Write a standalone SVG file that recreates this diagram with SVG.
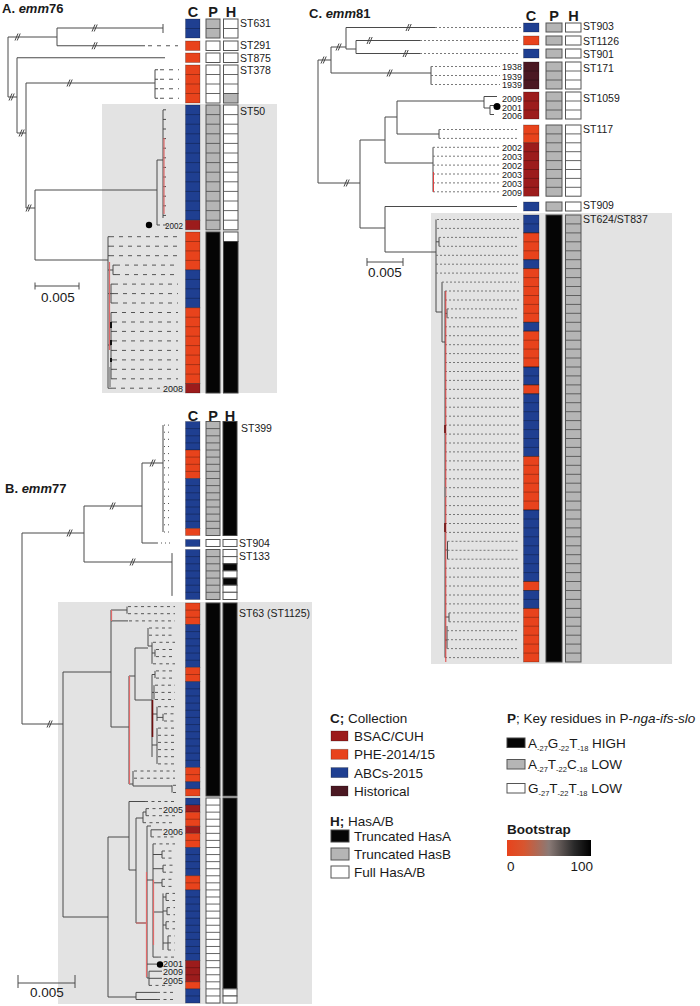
<svg xmlns="http://www.w3.org/2000/svg" width="700" height="1006" viewBox="0 0 700 1006">
<defs>
<style>
text{font-family:"Liberation Sans",Arial,sans-serif;fill:#1a1a1a}
.ttl{font-size:13px;font-weight:bold}
.hd{font-size:14.5px;font-weight:bold;text-anchor:middle}
.st{font-size:10.5px}
.yr{font-size:9px;text-anchor:end}
.sc{font-size:13.5px;text-anchor:middle}
.lg{font-size:13.5px}
.t{fill:none;stroke:#4a4a4a;stroke-width:1}
.da{fill:none;stroke:#555;stroke-width:1;stroke-dasharray:4 5}
.db{fill:none;stroke:#555;stroke-width:1;stroke-dasharray:3 3.5}
.dc{fill:none;stroke:#6a6a6a;stroke-width:0.9;stroke-dasharray:2 2}
.dt{fill:none;stroke:#555;stroke-width:1;stroke-dasharray:1 3}
.pk{fill:none;stroke:#e06a6a;stroke-width:1.2}
.dr{fill:none;stroke:#6e1010;stroke-width:1.6}
.sep{fill:none;stroke:#000;stroke-opacity:0.35;stroke-width:0.8}
.sepd{fill:none;stroke:#555;stroke-width:0.9}
.cb,.co,.cm,.ch{stroke:#000;stroke-opacity:0.3;stroke-width:0.8}
.cb{fill:#1f3f91}.co{fill:#e8431c}.cm{fill:#9c1c1c}.ch{fill:#4b1822}
.cw{fill:#fff;stroke:#555;stroke-width:1}
.cg{fill:#b5b5b5;stroke:#555;stroke-width:1}
.ck{fill:#050505;stroke:#444;stroke-width:1}
.bg{fill:#e3e3e3}
</style>
<path id="sl" d="M-3 3.5L0 -3.5M-0.8 3.5L2.2 -3.5" fill="none" stroke="#444" stroke-width="1"/>
<linearGradient id="bs" x1="0" x2="1" y1="0" y2="0">
<stop offset="0" stop-color="#e8431c"/>
<stop offset="0.2" stop-color="#d8552f"/>
<stop offset="0.5" stop-color="#8a7a76"/>
<stop offset="0.8" stop-color="#2a2a2a"/>
<stop offset="1" stop-color="#000"/>
</linearGradient>
</defs>
<rect width="700" height="1006" fill="#fff"/>

<!-- ================= PANEL A ================= -->
<g id="panelA">
<rect class="bg" x="102" y="104" width="175" height="289"/>
<text class="ttl" x="2" y="13">A. <tspan font-style="italic">emm</tspan>76</text>
<text class="hd" x="193" y="17">C</text><text class="hd" x="213" y="17">P</text><text class="hd" x="231" y="17">H</text>

<g id="A-connectors">
<path class="t" d="M8 37V97M8 37H57M57 28V45.75M57 28H163M163 24V33M57 45.75H145M8 97H17M17 57.75V133M17 57.75H165M17 133H26M26 83V208M26 83H155M155 69.75V98.25M155 69.75H158M155 79.25H158M155 88.75H158M155 98.25H158M26 208H35M35 190V260M35 190H157M157 160V225M157 160H163M163 110V218M157 225H160M35 260H108M108 236.7V388.2"/>
<path class="t" d="M163 109.8h3M163 119.4h3M163 129h3M163 138.6h3M163 148.2h3M163 157.8h3M163 167.4h3M163 177h3M163 186.6h3M163 196.2h3M163 205.8h3M163 215.4h3"/>
<path class="t" d="M108 236.7H110M108 246.2H110M108 255.7H110M108 270H113M113 265.1V274.6M113 265.1H116M113 274.6H116M108 293.6H111M111 284.1V303M111 284.1H114M111 293.6H114M111 303H114M108 345H111M111 312.5V378.8M111 312.5h2M111 322h2M111 331.4h2M111 340.9h2M111 350.4h2M111 359.9h2M111 369.3h2M111 378.8h2M108 388.2H112"/>
<path class="da" d="M148 45.75H178M160 69.75H179M160 79.25H179M160 88.75H179M160 98.25H179M163 225H168"/>
<path class="da" d="M110 236.7H178M110 246.2H178M110 255.7H178M116 265.1H178M116 274.6H178M114 284.1H178M114 293.6H178M114 303H178M113 312.5H178M113 322H178M113 331.4H178M113 340.9H178M113 350.4H178M113 359.9H178M113 369.3H178M113 378.8H178M112 388.2H160"/>
<path class="pk" d="M164 138V214M109.5 262V350"/>
<path fill="none" stroke="#111" stroke-width="2" d="M111 322V328M111 340V345M111 358V362"/>
<path fill="none" stroke="#888" stroke-width="1.5" d="M110 367V387"/>
<use href="#sl" x="18" y="37"/><use href="#sl" x="95" y="28"/><use href="#sl" x="95" y="45.75"/><use href="#sl" x="12" y="97"/><use href="#sl" x="22" y="133"/><use href="#sl" x="70" y="83"/><use href="#sl" x="29" y="208"/>
<circle cx="149" cy="225" r="3.2" fill="#000"/>
</g>

<g id="A-ST631">
<rect class="cb" x="185.5" y="19" width="14.5" height="19"/><path class="sep" d="M185.5 28.5h14.5"/>
<rect class="cg" x="206" y="19" width="14" height="19"/><path class="sepd" d="M206 28.5h14"/>
<rect class="cw" x="223.5" y="19" width="14.5" height="19"/><path class="sepd" d="M223.5 28.5h14.5"/>
<text class="st" x="240" y="27">ST631</text>
</g>
<g id="A-ST291">
<rect class="co" x="185.5" y="41" width="14.5" height="9.5"/>
<rect class="cw" x="206" y="41" width="14" height="9.5"/>
<rect class="cw" x="223.5" y="41" width="14.5" height="9.5"/>
<text class="st" x="240" y="49">ST291</text>
</g>
<g id="A-ST875">
<rect class="co" x="185.5" y="53" width="14.5" height="9.5"/>
<rect class="cw" x="206" y="53" width="14" height="9.5"/>
<rect class="cw" x="223.5" y="53" width="14.5" height="9.5"/>
<text class="st" x="240" y="61.5">ST875</text>
</g>
<g id="A-ST378">
<rect class="co" x="185.5" y="65" width="14.5" height="38"/><path class="sep" d="M185.5 74.5h14.5M185.5 84h14.5M185.5 93.5h14.5"/>
<rect class="cw" x="206" y="65" width="14" height="38"/><path class="sepd" d="M206 74.5h14M206 84h14M206 93.5h14"/>
<rect class="cw" x="223.5" y="65" width="14.5" height="28.5"/><rect class="cg" x="223.5" y="93.5" width="14.5" height="9.5"/><path class="sepd" d="M223.5 74.5h14.5M223.5 84h14.5"/>
<text class="st" x="240" y="74">ST378</text>
</g>
<g id="A-ST50">
<rect class="cb" x="185.5" y="105" width="14.5" height="115.2"/><rect class="cm" x="185.5" y="220.2" width="14.5" height="9.6"/>
<path class="sep" d="M185.5 114.6h14.5M185.5 124.2h14.5M185.5 133.8h14.5M185.5 143.4h14.5M185.5 153h14.5M185.5 162.6h14.5M185.5 172.2h14.5M185.5 181.8h14.5M185.5 191.4h14.5M185.5 201h14.5M185.5 210.6h14.5"/>
<rect class="cg" x="206" y="105" width="14" height="124.8"/>
<path class="sepd" d="M206 114.6h14M206 124.2h14M206 133.8h14M206 143.4h14M206 153h14M206 162.6h14M206 172.2h14M206 181.8h14M206 191.4h14M206 201h14M206 210.6h14M206 220.2h14"/>
<rect class="cw" x="223.5" y="105" width="14.5" height="124.8"/>
<path class="sepd" d="M223.5 114.6h14.5M223.5 124.2h14.5M223.5 133.8h14.5M223.5 143.4h14.5M223.5 153h14.5M223.5 162.6h14.5M223.5 172.2h14.5M223.5 181.8h14.5M223.5 191.4h14.5M223.5 201h14.5M223.5 210.6h14.5M223.5 220.2h14.5"/>
<text class="st" x="240" y="115">ST50</text>
<text class="yr" x="183" y="228.5" textLength="18" lengthAdjust="spacingAndGlyphs">2002</text>
</g>
<g id="A-clade2">
<rect class="co" x="185.5" y="232" width="14.5" height="37.9"/><rect class="cb" x="185.5" y="269.9" width="14.5" height="37.9"/><rect class="co" x="185.5" y="307.8" width="14.5" height="75.7"/><rect class="cm" x="185.5" y="383.5" width="14.5" height="9.5"/>
<path class="sep" d="M185.5 241.5h14.5M185.5 250.9h14.5M185.5 260.4h14.5M185.5 279.4h14.5M185.5 288.8h14.5M185.5 298.3h14.5M185.5 317.2h14.5M185.5 326.7h14.5M185.5 336.2h14.5M185.5 345.6h14.5M185.5 355.1h14.5M185.5 364.6h14.5M185.5 374.1h14.5"/>
<rect class="ck" x="206" y="232" width="14" height="161"/>
<rect class="cw" x="223.5" y="232" width="14.5" height="9.5"/><rect class="ck" x="223.5" y="241.5" width="14.5" height="151.5"/>
<text class="yr" x="183" y="392" textLength="20" lengthAdjust="spacingAndGlyphs">2008</text>
</g>
<g id="A-scale">
<path class="t" d="M35 286H79M35 282.5V289.5M79 282.5V289.5"/>
<text class="sc" x="58" y="302">0.005</text>
</g>
</g>

<!-- ================= PANEL B ================= -->
<g id="panelB">
<rect class="bg" x="58" y="602" width="254" height="402"/>
<text class="ttl" x="5" y="493">B. <tspan font-style="italic">emm</tspan>77</text>
<text class="hd" x="193" y="421">C</text><text class="hd" x="213" y="421">P</text><text class="hd" x="230" y="421">H</text>

<g id="B-connectors">
<path class="t" d="M22 533V724M22 533H84M84 506V562M84 506H142M142 463V543M142 463H163M163 425.1V532M142 543H157M84 562H172M172 553.1V595.9M22 724H63M63 672V917"/>
<path class="dt" d="M164 425.1H171M164 432.2H171M164 439.3H171M164 446.5H171M164 453.6H171M164 460.7H171M164 467.8H171M164 475H171M164 482.1H171M164 489.2H171M164 496.3H171M164 503.5H171M164 510.6H171M164 517.7H171M164 524.8H171M164 532H171M157 543H171"/>
<path class="t" d="M63 672H111M111 610V727M111 610H127M127 606.6V613.7M111 620.9H128M111 727H129M129 676V784M129 676H135M135 648V700M135 648H148M148 628V646M148 646H152M152 642.3V663.8M152 653H155M155 649.5V656.6M135 700H152M152 674.5V757M152 674.5H155M155 670.9V678.1M152 692.4H154M154 685.2V699.5M152 714H157M157 706.7V721M157 717.4H163M163 713.8V721M152 745H157M157 728.1V763.9M129 784H133M133 771V786M133 786H172M172 785.3V792.5"/>
<path class="db" d="M128 606.6H175M128 613.7H175M129 620.9H175M149 628H175M149 635.2H175M153 642.3H175M156 649.5H175M156 656.6H175M153 663.8H175M156 670.9H175M156 678.1H175M155 685.2H175M155 692.4H175M155 699.5H175M158 706.7H175M164 713.8H175M164 721H175M158 728.1H175M158 735.3H175M158 742.4H175M158 749.6H175M158 756.7H175M158 763.9H175M134 771H175M134 778.2H175M173 785.3H176M173 792.5H176"/>
<path class="pk" d="M129.5 676V784M111.5 610V621"/>
<path class="dr" d="M152.5 700V737"/>
<path class="t" d="M63 917H108M108 837V997M108 837H129M129 801.5V870M129 801.5H145M129 870H136M136 818V923M136 818H143M143 812V822.7M143 812H146M146 808.6V815.7M136 923H147M147 826V978M147 826H151M151 829.8V836.9M151 829.8H162M147 880H153M153 843.9V957.1M153 854.5H162M162 851V858.1M153 868.7H163M163 865.2V872.2M153 882.8H162M162 879.3V886.4M153 912H163M163 893.4V950M163 897H166M166 893.4V900.5M163 911H167M167 907.6V914.7M163 925H166M166 921.7V928.8M163 943H168M168 935.9V950M153 957.1H158M147 964.1H162M147 978H149M149 971.2V985.4M149 971.2H162M149 978.3H162M108 997H136M136 992.4V999.5M136 992.4H157M136 999.5H157"/>
<path class="db" d="M145 801.5H175M146 808.6H162M146 815.7H175M143 822.7H175M151 836.9H175M153 843.9H175M162 851H175M162 858.1H175M163 865.2H175M163 872.2H175M162 879.3H175M162 886.4H175M166 893.4H175M166 900.5H175M167 907.6H175M167 914.7H175M166 921.7H175M166 928.8H175M168 935.9H175M168 942.9H175M168 950H175M158 957.1H175M149 985.4H175M157 992.4H175M157 999.5H175"/>
<path class="pk" d="M146.5 872V977M153.5 880V945M136 923H147"/>
<use href="#sl" x="70" y="533"/><use href="#sl" x="113" y="506"/><use href="#sl" x="153" y="463"/><use href="#sl" x="133" y="562"/><use href="#sl" x="50" y="724"/>
<circle cx="160" cy="964.5" r="3.2" fill="#000"/>
</g>

<g id="B-ST399">
<rect class="cb" x="185.5" y="421.5" width="14.5" height="28.5"/><rect class="co" x="185.5" y="450" width="14.5" height="28.5"/><rect class="cb" x="185.5" y="478.5" width="14.5" height="49.9"/><rect class="co" x="185.5" y="528.4" width="14.5" height="7.1"/>
<path class="sep" d="M185.5 428.6h14.5M185.5 435.8h14.5M185.5 442.9h14.5M185.5 457.1h14.5M185.5 464.3h14.5M185.5 471.4h14.5M185.5 485.6h14.5M185.5 492.8h14.5M185.5 499.9h14.5M185.5 507h14.5M185.5 514.1h14.5M185.5 521.3h14.5"/>
<rect class="cg" x="206" y="421.5" width="14" height="114"/>
<path class="sepd" d="M206 428.6h14M206 435.8h14M206 442.9h14M206 450h14M206 457.1h14M206 464.3h14M206 471.4h14M206 478.5h14M206 485.6h14M206 492.8h14M206 499.9h14M206 507h14M206 514.1h14M206 521.3h14M206 528.4h14"/>
<rect class="ck" x="223" y="421.5" width="14" height="114"/>
<text class="st" x="241" y="431.5">ST399</text>
</g>
<g id="B-ST904">
<rect class="cb" x="185.5" y="539.5" width="14.5" height="7"/>
<rect class="cw" x="206" y="539.5" width="14" height="7"/>
<rect class="cw" x="223" y="539.5" width="14" height="7"/>
<text class="st" x="239" y="547">ST904</text>
</g>
<g id="B-ST133">
<rect class="cb" x="185.5" y="549.5" width="14.5" height="50"/>
<path class="sep" d="M185.5 556.6h14.5M185.5 563.8h14.5M185.5 570.9h14.5M185.5 578.1h14.5M185.5 585.2h14.5M185.5 592.3h14.5"/>
<rect class="cg" x="206" y="549.5" width="14" height="50"/>
<path class="sepd" d="M206 556.6h14M206 563.8h14M206 570.9h14M206 578.1h14M206 585.2h14M206 592.3h14"/>
<rect class="cw" x="223" y="549.5" width="14" height="7.1"/><rect class="cw" x="223" y="556.6" width="14" height="7.2"/><rect class="ck" x="223" y="563.8" width="14" height="7.1"/><rect class="cw" x="223" y="570.9" width="14" height="7.2"/><rect class="ck" x="223" y="578.1" width="14" height="7.1"/><rect class="cw" x="223" y="585.2" width="14" height="7.1"/><rect class="cw" x="223" y="592.3" width="14" height="7.2"/>
<text class="st" x="239" y="560">ST133</text>
</g>
<g id="B-ST63">
<rect class="co" x="185.5" y="603" width="14.5" height="21.45"/><rect class="cb" x="185.5" y="624.45" width="14.5" height="42.9"/><rect class="co" x="185.5" y="667.35" width="14.5" height="14.3"/><rect class="cb" x="185.5" y="681.65" width="14.5" height="85.8"/><rect class="co" x="185.5" y="767.45" width="14.5" height="14.3"/><rect class="cb" x="185.5" y="781.75" width="14.5" height="7.15"/><rect class="co" x="185.5" y="788.9" width="14.5" height="7.1"/>
<path class="sep" d="M185.5 610.15h14.5M185.5 617.3h14.5M185.5 631.6h14.5M185.5 638.75h14.5M185.5 645.9h14.5M185.5 653.05h14.5M185.5 660.2h14.5M185.5 674.5h14.5M185.5 688.8h14.5M185.5 695.95h14.5M185.5 703.1h14.5M185.5 710.25h14.5M185.5 717.4h14.5M185.5 724.55h14.5M185.5 731.7h14.5M185.5 738.85h14.5M185.5 746h14.5M185.5 753.15h14.5M185.5 760.3h14.5M185.5 774.6h14.5"/>
<rect class="ck" x="206" y="603" width="14" height="193"/>
<rect class="ck" x="223" y="603" width="14" height="193"/>
<text class="st" x="239" y="617">ST63 (ST1125)</text>
</g>
<g id="B-clade2">
<rect class="cb" x="185.5" y="798" width="14.5" height="7.07"/><rect class="cm" x="185.5" y="805.07" width="14.5" height="7.07"/><rect class="co" x="185.5" y="812.14" width="14.5" height="14.14"/><rect class="cm" x="185.5" y="826.28" width="14.5" height="7.07"/><rect class="co" x="185.5" y="833.35" width="14.5" height="14.14"/><rect class="cb" x="185.5" y="847.49" width="14.5" height="28.28"/><rect class="co" x="185.5" y="875.77" width="14.5" height="14.14"/><rect class="cb" x="185.5" y="889.91" width="14.5" height="70.7"/><rect class="cm" x="185.5" y="960.61" width="14.5" height="21.21"/><rect class="co" x="185.5" y="981.82" width="14.5" height="7.07"/><rect class="cb" x="185.5" y="988.89" width="14.5" height="14.1"/>
<path class="sep" d="M185.5 819.21h14.5M185.5 840.42h14.5M185.5 854.56h14.5M185.5 861.63h14.5M185.5 868.7h14.5M185.5 882.84h14.5M185.5 896.98h14.5M185.5 904.05h14.5M185.5 911.12h14.5M185.5 918.19h14.5M185.5 925.26h14.5M185.5 932.33h14.5M185.5 939.4h14.5M185.5 946.47h14.5M185.5 953.54h14.5M185.5 967.68h14.5M185.5 974.75h14.5M185.5 995.96h14.5"/>
<rect class="cw" x="206" y="798" width="14" height="205"/>
<path class="sepd" d="M206 805.07h14M206 812.14h14M206 819.21h14M206 826.28h14M206 833.35h14M206 840.42h14M206 847.49h14M206 854.56h14M206 861.63h14M206 868.7h14M206 875.77h14M206 882.84h14M206 889.91h14M206 896.98h14M206 904.05h14M206 911.12h14M206 918.19h14M206 925.26h14M206 932.33h14M206 939.4h14M206 946.47h14M206 953.54h14M206 960.61h14M206 967.68h14M206 974.75h14M206 981.82h14M206 988.89h14M206 995.96h14"/>
<rect class="ck" x="223" y="798" width="14" height="190.9"/><rect class="cw" x="223" y="988.9" width="14" height="7.07"/><rect class="cw" x="223" y="996" width="14" height="7"/>
<text class="yr" x="183" y="812.5" textLength="20" lengthAdjust="spacingAndGlyphs">2005</text>
<text class="yr" x="183" y="834.5" textLength="20" lengthAdjust="spacingAndGlyphs">2006</text>
<text class="yr" x="183" y="967" textLength="20" lengthAdjust="spacingAndGlyphs">2001</text>
<text class="yr" x="183" y="975" textLength="20" lengthAdjust="spacingAndGlyphs">2009</text>
<text class="yr" x="183" y="983.5" textLength="20" lengthAdjust="spacingAndGlyphs">2005</text>
</g>
<g id="B-scale">
<path class="t" d="M18 983H75M18 975V988M75 975V988"/>
<text class="sc" x="47" y="997">0.005</text>
</g>
</g>

<!-- ================= PANEL C ================= -->
<g id="panelC">
<rect class="bg" x="431" y="213" width="241" height="451"/>
<text class="ttl" x="309" y="18">C. <tspan font-style="italic">emm</tspan>81</text>
<text class="hd" x="531" y="20.5">C</text><text class="hd" x="554" y="20.5">P</text><text class="hd" x="573.5" y="20.5">H</text>

<g id="C-connectors">
<path class="t" d="M318 60V183M318 60H331M331 47V73M331 47H346M346 27.5V49M346 27.5H435M346 49H356M356 40.5V53.5M356 40.5H420M356 53.5H420M331 73H431M431 66.5V84.5M318 183H360M360 140V228M360 140H385M385 117V163M385 117H397M397 101V134M397 101H484M484 96.5V108M484 96.5H497M484 108H490M490 105.5V114.5M490 105.5H494M490 114.5H494M397 134H439M439 129.5V138.4M385 163H433M433 147.3V191.8M360 228H385M385 206.5V252M385 206.5H517M385 252H436M436 219.5V312M436 312H442M442 282.1V342M442 342H445M445 291V657.6M436 241.8H439M439 237.4V246.3M445 313.4H447M447 308.9V317.8M445 550H447.5M447.5 541.3V559.2M445 617H449M449 612.9V621.8M445 640H447M447 626V648.6"/>
<path class="dc" d="M435 27.5H521M420 40.5H519M420 53.5H519M431 66.5H500M431 75.5H500M431 84.5H500M439 129.5H519M439 138.4H519M433 147.3H499M433 156.2H499M433 165.1H499M433 174H499M433 182.9H499M433 191.8H499"/>
<path class="dc" d="M437 219.5H519M437 228.4H519M439 237.4H519M439 246.3H519M436 255.3H519M436 264.2H519M436 273.1H519M442 282.1H519M445 291H519M445 300H519M447 308.9H519M447 317.8H519M445 326.8H519M445 335.7H519M445 344.7H519M445 353.6H519M445 362.5H519M445 371.5H519M445 380.4H519M445 389.4H519M445 398.3H519M445 407.2H519M445 416.2H519M445 425.1H519M445 434.1H519M445 443H519M445 451.9H519M445 460.9H519M445 469.8H519M445 478.8H519M445 487.7H519M445 496.6H519M445 505.6H519M445 514.5H519M445 523.5H519M445 532.4H519M447.5 541.3H519M447.5 550.3H519M447.5 559.2H519M445 568.2H519M445 577.1H519M445 586H519M445 595H519M445 603.9H519M449 612.9H519M449 621.8H519M447 630.7H519M447 639.7H519M447 648.6H519M445 657.6H519"/>
<path fill="none" stroke="#e04040" stroke-width="1" d="M445.8 291V662M433.5 172V192"/>
<path class="dr" d="M445 425V433M445 523V532"/>
<path fill="none" stroke="#888" stroke-width="1.5" d="M445 487V497"/>
<use href="#sl" x="324" y="60"/><use href="#sl" x="339" y="47"/><use href="#sl" x="409" y="27.5"/><use href="#sl" x="370" y="40.5"/><use href="#sl" x="406" y="53.5"/><use href="#sl" x="390" y="73"/><use href="#sl" x="347" y="183"/>
<circle cx="497" cy="106.5" r="3.5" fill="#000"/>
</g>

<g id="C-ST903">
<rect class="cb" x="523.5" y="23" width="15.5" height="9"/><rect class="cg" x="546" y="23" width="16" height="9"/><rect class="cw" x="565.5" y="23" width="15.5" height="9"/>
<text class="st" x="583" y="30">ST903</text>
</g>
<g id="C-ST1126">
<rect class="co" x="523.5" y="36" width="15.5" height="9"/><rect class="cg" x="546" y="36" width="16" height="9"/><rect class="cw" x="565.5" y="36" width="15.5" height="9"/>
<text class="st" x="583" y="45">ST1126</text>
</g>
<g id="C-ST901">
<rect class="cb" x="523.5" y="49" width="15.5" height="9"/><rect class="cg" x="546" y="49" width="16" height="9"/><rect class="cw" x="565.5" y="49" width="15.5" height="9"/>
<text class="st" x="583" y="57.5">ST901</text>
</g>
<g id="C-ST171">
<rect class="ch" x="523.5" y="62" width="15.5" height="27"/><path class="sep" d="M523.5 71h15.5M523.5 80h15.5"/>
<rect class="cg" x="546" y="62" width="16" height="27"/><path class="sepd" d="M546 71h16M546 80h16"/>
<rect class="cw" x="565.5" y="62" width="15.5" height="27"/><path class="sepd" d="M565.5 71h15.5M565.5 80h15.5"/>
<text class="st" x="583" y="72">ST171</text>
<text class="yr" x="522" y="70" textLength="20" lengthAdjust="spacingAndGlyphs">1938</text>
<text class="yr" x="522" y="79.5" textLength="20" lengthAdjust="spacingAndGlyphs">1939</text>
<text class="yr" x="522" y="88" textLength="20" lengthAdjust="spacingAndGlyphs">1939</text>
</g>
<g id="C-ST1059">
<rect class="cm" x="523.5" y="92" width="15.5" height="27"/><path class="sep" d="M523.5 101h15.5M523.5 110h15.5"/>
<rect class="cg" x="546" y="92" width="16" height="27"/><path class="sepd" d="M546 101h16M546 110h16"/>
<rect class="cw" x="565.5" y="92" width="15.5" height="27"/><path class="sepd" d="M565.5 101h15.5M565.5 110h15.5"/>
<text class="st" x="583" y="102">ST1059</text>
<text class="yr" x="522" y="101.5" textLength="20" lengthAdjust="spacingAndGlyphs">2009</text>
<text class="yr" x="522" y="111" textLength="20" lengthAdjust="spacingAndGlyphs">2001</text>
<text class="yr" x="522" y="119" textLength="20" lengthAdjust="spacingAndGlyphs">2006</text>
</g>
<g id="C-ST117">
<rect class="co" x="523.5" y="125" width="15.5" height="17.8"/><rect class="cm" x="523.5" y="142.8" width="15.5" height="53.4"/>
<path class="sep" d="M523.5 133.9h15.5M523.5 151.7h15.5M523.5 160.6h15.5M523.5 169.5h15.5M523.5 178.4h15.5M523.5 187.3h15.5"/>
<rect class="cg" x="546" y="125" width="16" height="71.2"/>
<path class="sepd" d="M546 133.9h16M546 142.8h16M546 151.7h16M546 160.6h16M546 169.5h16M546 178.4h16M546 187.3h16"/>
<rect class="cw" x="565.5" y="125" width="15.5" height="71.2"/>
<path class="sepd" d="M565.5 133.9h15.5M565.5 142.8h15.5M565.5 151.7h15.5M565.5 160.6h15.5M565.5 169.5h15.5M565.5 178.4h15.5M565.5 187.3h15.5"/>
<text class="st" x="583" y="132.5">ST117</text>
<text class="yr" x="522" y="151" textLength="20" lengthAdjust="spacingAndGlyphs">2002</text>
<text class="yr" x="522" y="160" textLength="20" lengthAdjust="spacingAndGlyphs">2003</text>
<text class="yr" x="522" y="168.5" textLength="20" lengthAdjust="spacingAndGlyphs">2002</text>
<text class="yr" x="522" y="178" textLength="20" lengthAdjust="spacingAndGlyphs">2003</text>
<text class="yr" x="522" y="187" textLength="20" lengthAdjust="spacingAndGlyphs">2003</text>
<text class="yr" x="522" y="196" textLength="20" lengthAdjust="spacingAndGlyphs">2009</text>
</g>
<g id="C-ST909">
<rect class="cb" x="523.5" y="202" width="15.5" height="9"/><rect class="cg" x="546" y="202" width="16" height="9"/><rect class="cw" x="565.5" y="202" width="15.5" height="9"/>
<text class="st" x="583" y="209">ST909</text>
</g>
<g id="C-ST624">
<rect class="cb" x="523.5" y="215" width="15.5" height="17.9"/><rect class="co" x="523.5" y="232.9" width="15.5" height="26.8"/><rect class="cb" x="523.5" y="259.7" width="15.5" height="8.9"/><rect class="co" x="523.5" y="268.6" width="15.5" height="53.7"/><rect class="cb" x="523.5" y="322.3" width="15.5" height="8.9"/><rect class="co" x="523.5" y="331.2" width="15.5" height="35.8"/><rect class="cb" x="523.5" y="367" width="15.5" height="17.9"/><rect class="co" x="523.5" y="384.9" width="15.5" height="8.9"/><rect class="cb" x="523.5" y="393.8" width="15.5" height="62.6"/><rect class="co" x="523.5" y="456.4" width="15.5" height="53.6"/><rect class="cb" x="523.5" y="510" width="15.5" height="71.5"/><rect class="co" x="523.5" y="581.5" width="15.5" height="9"/><rect class="cb" x="523.5" y="590.5" width="15.5" height="17.9"/><rect class="co" x="523.5" y="608.4" width="15.5" height="53.6"/>
<path class="sep" d="M523.5 223.9h15.5M523.5 232.9h15.5M523.5 241.8h15.5M523.5 250.8h15.5M523.5 259.7h15.5M523.5 268.6h15.5M523.5 277.6h15.5M523.5 286.5h15.5M523.5 295.5h15.5M523.5 304.4h15.5M523.5 313.3h15.5M523.5 322.3h15.5M523.5 331.2h15.5M523.5 340.2h15.5M523.5 349.1h15.5M523.5 358h15.5M523.5 367h15.5M523.5 375.9h15.5M523.5 384.9h15.5M523.5 393.8h15.5M523.5 402.7h15.5M523.5 411.7h15.5M523.5 420.6h15.5M523.5 429.6h15.5M523.5 438.5h15.5M523.5 447.4h15.5M523.5 456.4h15.5M523.5 465.3h15.5M523.5 474.3h15.5M523.5 483.2h15.5M523.5 492.1h15.5M523.5 501.1h15.5M523.5 510h15.5M523.5 519h15.5M523.5 527.9h15.5M523.5 536.8h15.5M523.5 545.8h15.5M523.5 554.7h15.5M523.5 563.7h15.5M523.5 572.6h15.5M523.5 581.5h15.5M523.5 590.5h15.5M523.5 599.4h15.5M523.5 608.4h15.5M523.5 617.3h15.5M523.5 626.2h15.5M523.5 635.2h15.5M523.5 644.1h15.5M523.5 653.1h15.5"/>
<rect class="ck" x="546" y="215" width="16" height="447"/>
<rect class="cg" x="565.5" y="215" width="15.5" height="447"/>
<path class="sepd" d="M565.5 223.9h15.5M565.5 232.9h15.5M565.5 241.8h15.5M565.5 250.8h15.5M565.5 259.7h15.5M565.5 268.6h15.5M565.5 277.6h15.5M565.5 286.5h15.5M565.5 295.5h15.5M565.5 304.4h15.5M565.5 313.3h15.5M565.5 322.3h15.5M565.5 331.2h15.5M565.5 340.2h15.5M565.5 349.1h15.5M565.5 358h15.5M565.5 367h15.5M565.5 375.9h15.5M565.5 384.9h15.5M565.5 393.8h15.5M565.5 402.7h15.5M565.5 411.7h15.5M565.5 420.6h15.5M565.5 429.6h15.5M565.5 438.5h15.5M565.5 447.4h15.5M565.5 456.4h15.5M565.5 465.3h15.5M565.5 474.3h15.5M565.5 483.2h15.5M565.5 492.1h15.5M565.5 501.1h15.5M565.5 510h15.5M565.5 519h15.5M565.5 527.9h15.5M565.5 536.8h15.5M565.5 545.8h15.5M565.5 554.7h15.5M565.5 563.7h15.5M565.5 572.6h15.5M565.5 581.5h15.5M565.5 590.5h15.5M565.5 599.4h15.5M565.5 608.4h15.5M565.5 617.3h15.5M565.5 626.2h15.5M565.5 635.2h15.5M565.5 644.1h15.5M565.5 653.1h15.5"/>
<text class="st" x="583" y="222.5">ST624/ST837</text>
</g>
<g id="C-scale">
<path class="t" d="M367 262H403M367 258V266M403 258V266"/>
<text class="sc" x="385" y="277">0.005</text>
</g>
</g>

<!-- ================= LEGENDS ================= -->
<g id="legend-C">
<text class="lg" x="330" y="723"><tspan font-weight="bold">C;</tspan> Collection</text>
<rect class="cm" x="331" y="731" width="17" height="10"/><text class="lg" x="354" y="740.5">BSAC/CUH</text>
<rect class="co" x="331" y="749.3" width="17" height="10"/><text class="lg" x="354" y="759">PHE-2014/15</text>
<rect class="cb" x="331" y="767.6" width="17" height="10"/><text class="lg" x="354" y="777.5">ABCs-2015</text>
<rect class="ch" x="331" y="786" width="17" height="10"/><text class="lg" x="354" y="795.5">Historical</text>
</g>
<g id="legend-H">
<text class="lg" x="330" y="826"><tspan font-weight="bold">H;</tspan> HasA/B</text>
<rect class="ck" x="331" y="830" width="18" height="12"/><text class="lg" x="354" y="841">Truncated HasA</text>
<rect class="cg" x="331" y="848" width="18" height="12"/><text class="lg" x="354" y="859">Truncated HasB</text>
<rect class="cw" x="331" y="866" width="18" height="12"/><text class="lg" x="354" y="877">Full HasA/B</text>
</g>
<g id="legend-P">
<text class="lg" x="507" y="723"><tspan font-weight="bold">P</tspan>; Key residues in P-<tspan font-style="italic">nga-ifs-slo</tspan></text>
<rect class="ck" x="507" y="738" width="18" height="9.5"/>
<text class="lg" x="528" y="747.5" font-size="14">A<tspan font-size="7.5" dy="3">-27</tspan><tspan dy="-3">G</tspan><tspan font-size="7.5" dy="3">-22</tspan><tspan dy="-3">T</tspan><tspan font-size="7.5" dy="3">-18</tspan><tspan dy="-3"> HIGH</tspan></text>
<rect class="cg" x="507" y="759.5" width="18" height="9.5"/>
<text class="lg" x="528" y="769" font-size="14">A<tspan font-size="7.5" dy="3">-27</tspan><tspan dy="-3">T</tspan><tspan font-size="7.5" dy="3">-22</tspan><tspan dy="-3">C</tspan><tspan font-size="7.5" dy="3">-18</tspan><tspan dy="-3"> LOW</tspan></text>
<rect class="cw" x="507" y="783.5" width="18" height="9.5"/>
<text class="lg" x="528" y="793" font-size="14">G<tspan font-size="7.5" dy="3">-27</tspan><tspan dy="-3">T</tspan><tspan font-size="7.5" dy="3">-22</tspan><tspan dy="-3">T</tspan><tspan font-size="7.5" dy="3">-18</tspan><tspan dy="-3"> LOW</tspan></text>
</g>
<g id="legend-bootstrap">
<text class="lg" x="507" y="834" font-weight="bold">Bootstrap</text>
<rect x="507" y="840" width="84" height="16" fill="url(#bs)"/>
<text class="lg" x="507" y="871">0</text>
<text class="lg" x="593" y="871" text-anchor="end">100</text>
</g>
</svg>
